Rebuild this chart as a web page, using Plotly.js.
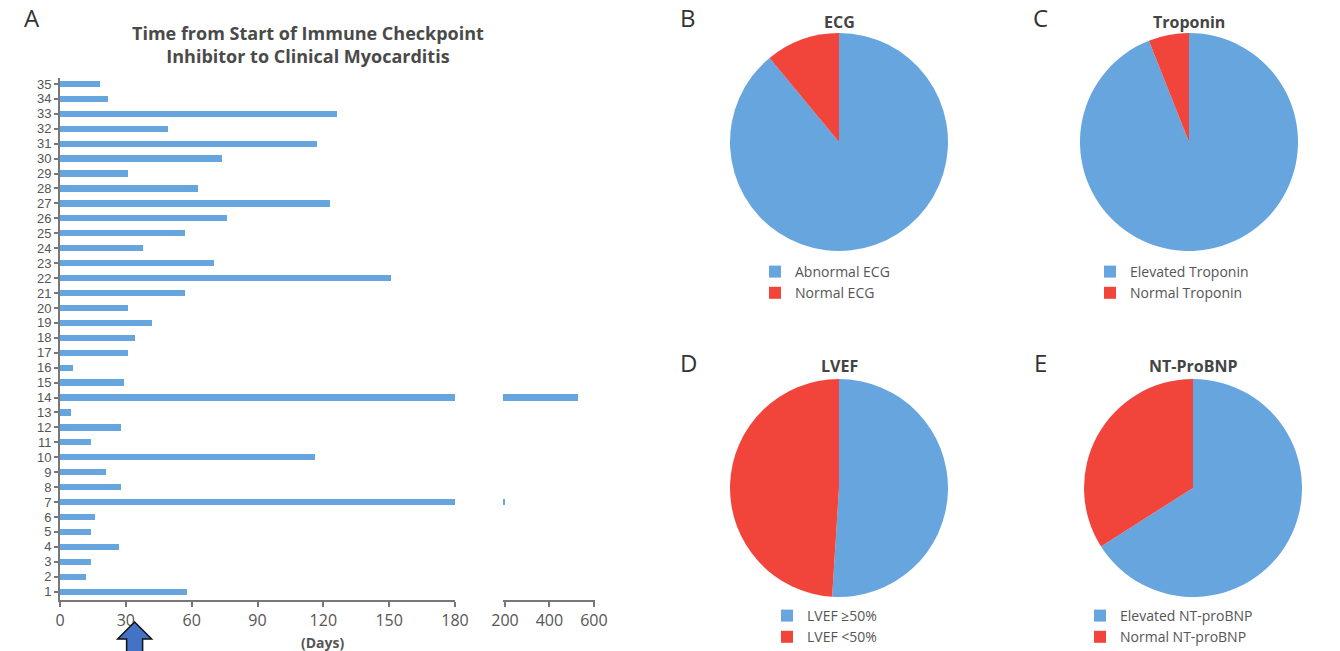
<!DOCTYPE html>
<html>
<head>
<meta charset="utf-8">
<script src="https://cdn.plot.ly/plotly-3.0.1.min.js"></script>
<style>
html,body{margin:0;padding:0;background:#fff;}
#chart{width:1340px;height:651px;}
</style>
</head>
<body>
<div id="chart"></div>
<script>
// ---- data ----
var patients = [1,2,3,4,5,6,7,8,9,10,11,12,13,14,15,16,17,18,19,20,21,22,23,24,25,26,27,28,29,30,31,32,33,34,35];
var daysToMyocarditis = [58,12,14,27,14,16,200,28,21,116,14,28,5,530,29,6,31,34,42,31,57,151,70,38,57,76,123,63,31,74,117,49,126,22,18];
var xTicksMain = [0,30,60,90,120,150,180];
var xTicksBreak = [200,400,600];
var medianDay = 34;

var ecgLabels = ['Abnormal ECG','Normal ECG'];
var ecgValues = [89,11];
var tropLabels = ['Elevated Troponin','Normal Troponin'];
var tropValues = [94,6];
var lvefLabels = ['LVEF \u226550%','LVEF <50%'];
var lvefValues = [51,49];
var bnpLabels = ['Elevated NT-proBNP','Normal NT-proBNP'];
var bnpValues = [66,34];

// ---- styling helpers ----
var W = 1340, H = 651;
function px(x){return x/W;}
function py(y){return 1 - y/H;}
var BLUE = '#66a5de', RED = '#f1443b';
var FONT = 'Open Sans, Noto Sans, sans-serif';
var NARROW = 'Liberation Sans Narrow, Liberation Sans, sans-serif';
var TXT = '#555555';

var traces = [
  {type:'bar', orientation:'h', x:daysToMyocarditis, y:patients, xaxis:'x', yaxis:'y',
   marker:{color:BLUE}, width:0.42, showlegend:false, hoverinfo:'x+y'},
  {type:'bar', orientation:'h', x:daysToMyocarditis, y:patients, xaxis:'x2', yaxis:'y',
   marker:{color:BLUE}, width:0.42, showlegend:false, hoverinfo:'x+y'}
];

function pie(labels, values, cx, cy, r, legendId){
  return {type:'pie', labels:labels, values:values, sort:false, direction:'clockwise', rotation:0,
    marker:{colors:[BLUE,RED], line:{width:0}}, textinfo:'none', hoverinfo:'label+percent',
    domain:{x:[px(cx-r), px(cx+r)], y:[py(cy+r), py(cy-r)]}, legend:legendId, showlegend:true};
}
var R = 109;
traces.push(pie(ecgLabels, ecgValues, 839, 142, R, 'legend'));
traces.push(pie(tropLabels, tropValues, 1189, 142, R, 'legend2'));
traces.push(pie(lvefLabels, lvefValues, 839, 488, R, 'legend3'));
traces.push(pie(bnpLabels, bnpValues, 1193, 488, R, 'legend4'));

function leg(x, y){
  return {x:px(x), y:py(y), xanchor:'left', yanchor:'top', bgcolor:'rgba(0,0,0,0)',
    font:{family:FONT, size:14, color:TXT}, tracegroupgap:0, itemclick:false, itemdoubleclick:false};
}

var ann = [];
function txt(t, x, y, size, bold, color){
  ann.push({text: bold ? '<b>'+t+'</b>' : t, x:px(x), y:py(y), xref:'paper', yref:'paper',
    showarrow:false, xanchor:'center', yanchor:'middle', font:{family:FONT, size:size, color:color||TXT}});
}
txt('A', 32, 18, 24, false, '#333');
txt('B', 688, 18, 24, false, '#333');
txt('C', 1040, 18, 24, false, '#333');
txt('D', 688, 362, 24, false, '#333');
txt('E', 1040, 362, 24, false, '#333');
txt('Time from Start of Immune Checkpoint<br>Inhibitor to Clinical Myocarditis', 308, 44, 18, true, '#4a4a4a');
txt('ECG', 839, 22, 16, true, '#444');
txt('Troponin', 1189, 22, 16, true, '#444');
txt('LVEF', 839, 366, 16, true, '#444');
txt('NT-ProBNP', 1193, 366, 16, true, '#444');
txt('(Days)', 322, 642, 14, true, TXT);

// up arrow marking median time
var ax0 = 60 + medianDay*(395/180);
function P(dx, y){return px(ax0+dx).toFixed(5)+','+py(y).toFixed(5);}
var arrowPath = 'M'+P(0,622)+' L'+P(17,639)+' L'+P(8,639)+' L'+P(8,652)+' L'+P(-8,652)+' L'+P(-8,639)+' L'+P(-17,639)+' Z';

var axCommon = {showgrid:false, zeroline:false, showline:true, linecolor:'#777', linewidth:2,
  ticks:'outside', ticklen:5, tickwidth:1.5, tickcolor:'#777',
  tickfont:{family:FONT, size:16, color:TXT}, fixedrange:true};

var layout = {
  width:W, height:H, margin:{l:0,r:0,t:0,b:0, autoexpand:false}, paper_bgcolor:'#fff', plot_bgcolor:'rgba(0,0,0,0)',
  font:{family:FONT, color:TXT}, bargap:0,
  xaxis: Object.assign({}, axCommon, {domain:[px(60), px(455)], range:[0,180], tickvals:xTicksMain, anchor:'y', automargin:false}),
  xaxis2: Object.assign({}, axCommon, {domain:[px(503), px(595)], range:[191,605], tickvals:xTicksBreak, anchor:'y', automargin:false}),
  yaxis: Object.assign({}, axCommon, {domain:[py(600), py(78)], range:[0.44,35.4], tickvals:patients,
    tickfont:{family:NARROW, size:13, color:TXT}, ticklen:4, anchor:'x', automargin:false}),
  legend: leg(755, 256),
  legend2: leg(1090, 256),
  legend3: leg(767, 600),
  legend4: leg(1080, 600),
  annotations: ann,
  shapes:[{type:'path', xref:'paper', yref:'paper', path:arrowPath, fillcolor:'#4472c4', line:{color:'#111', width:1.5}}]
};

Plotly.newPlot('chart', traces, layout, {displayModeBar:false});
</script>
</body>
</html>
